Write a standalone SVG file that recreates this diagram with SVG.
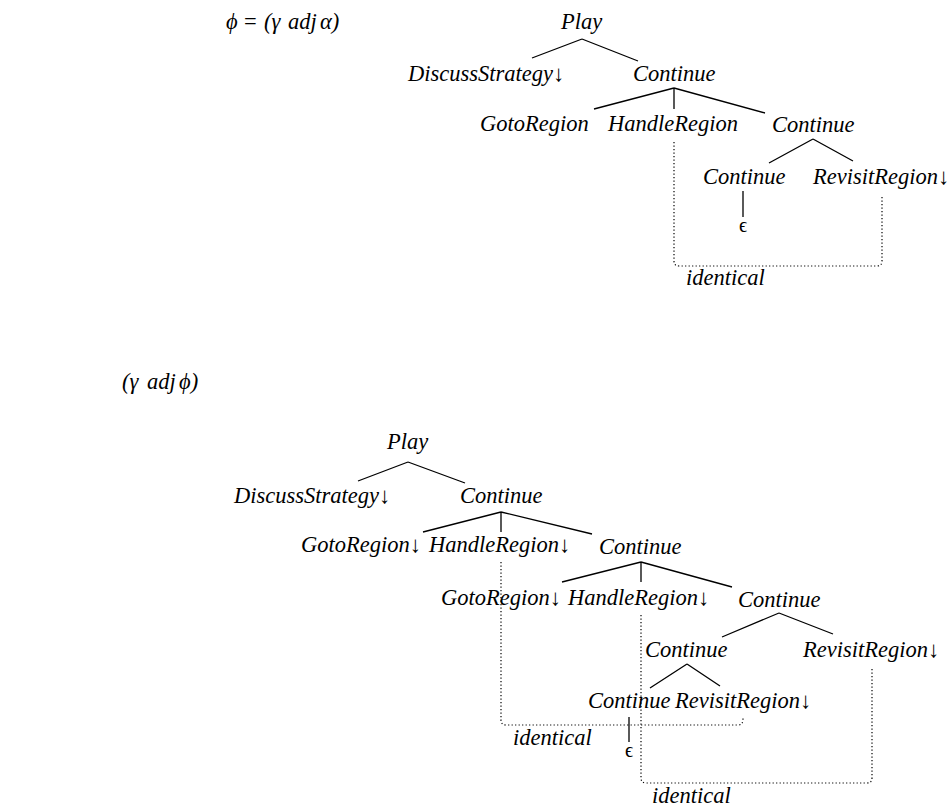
<svg xmlns="http://www.w3.org/2000/svg" width="952" height="810" viewBox="0 0 952 810">
<style>
text{font-family:"Liberation Serif","Times New Roman",serif;font-style:italic;font-size:22.5px;fill:#000}
.eps{font-style:normal;font-size:20px;text-anchor:middle}
.e{stroke:#000;stroke-width:1.3;fill:none}
.dot{stroke:#000;stroke-width:1.2;fill:none;stroke-dasharray:1.2 2.3}
</style>
<rect width="952" height="810" fill="#fff"/>
<g id="formula1"><text y="29"><tspan x="226">ϕ</tspan><tspan x="244" font-style="normal">=</tspan><tspan x="264">(γ</tspan><tspan x="288">adj</tspan><tspan x="320">α)</tspan></text></g>
<g id="formula2"><text y="389"><tspan x="122">(γ</tspan><tspan x="147">adj</tspan><tspan x="179">ϕ)</tspan></text></g>

<g id="connectors">
<!-- top tree -->
<path class="e" d="M582,39 L532,58 M582,39 L638,61"/>
<path class="e" d="M674,88 L594,109 M674,88 L674,109 M674,88 L765,113"/>
<path class="e" d="M813,139 L769,163 M813,139 L853,161"/>
<path class="e" d="M743,191 L743,217"/>
<path class="dot" d="M674,142 V261 Q674,266 679,266 H877 Q882,266 882,261 V195"/>
<!-- bottom tree -->
<path class="e" d="M408,462 L358,481 M408,462 L465,483"/>
<path class="e" d="M501,512 L423,532 M501,512 L501,532 M501,512 L592,534"/>
<path class="e" d="M641,562 L562,582 M641,562 L641,582 M641,562 L732,587"/>
<path class="e" d="M779,613 L722,637 M779,613 L833,634"/>
<path class="e" d="M687,664 L650,688 M687,664 L720,686"/>
<path class="e" d="M629,717 L629,742"/>
<path class="dot" d="M501,562 V720 Q501,725 506,725 H738 Q743,725 743,719 V716"/>
<path class="dot" d="M641,615 V778 Q641,783 646,783 H867 Q872,783 872,778 V668"/>
</g>

<!-- top tree nodes -->
<g id="t_play"><text x="561" y="29">Play</text></g>
<g id="t_discuss"><text x="408" y="81">DiscussStrategy↓</text></g>
<g id="t_continue1"><text x="633" y="81">Continue</text></g>
<g id="t_goto"><text x="480" y="131">GotoRegion</text></g>
<g id="t_handle"><text x="608" y="131">HandleRegion</text></g>
<g id="t_continue2"><text x="772" y="132">Continue</text></g>
<g id="t_continue3"><text x="703" y="184">Continue</text></g>
<g id="t_revisit"><text x="813" y="184">RevisitRegion↓</text></g>
<g id="t_eps"><text class="eps" x="743" y="232">ϵ</text></g>
<g id="t_identical"><text x="686" y="285">identical</text></g>

<!-- bottom tree nodes -->
<g id="b_play"><text x="387" y="449">Play</text></g>
<g id="b_discuss"><text x="234" y="503">DiscussStrategy↓</text></g>
<g id="b_continue1"><text x="460" y="503">Continue</text></g>
<g id="b_goto1"><text x="301" y="552">GotoRegion↓</text></g>
<g id="b_handle1"><text x="429" y="552">HandleRegion↓</text></g>
<g id="b_continue2"><text x="599" y="554">Continue</text></g>
<g id="b_goto2"><text x="441" y="605">GotoRegion↓</text></g>
<g id="b_handle2"><text x="568" y="605">HandleRegion↓</text></g>
<g id="b_continue3"><text x="738" y="607">Continue</text></g>
<g id="b_continue4"><text x="645" y="657">Continue</text></g>
<g id="b_revisit1"><text x="803" y="657">RevisitRegion↓</text></g>
<g id="b_continue5"><text x="588" y="708">Continue</text></g>
<g id="b_revisit2"><text x="675" y="708">RevisitRegion↓</text></g>
<g id="b_eps"><text class="eps" x="629" y="757">ϵ</text></g>
<g id="b_identical1"><text x="513" y="745">identical</text></g>
<g id="b_identical2"><text x="652" y="803">identical</text></g>
</svg>
